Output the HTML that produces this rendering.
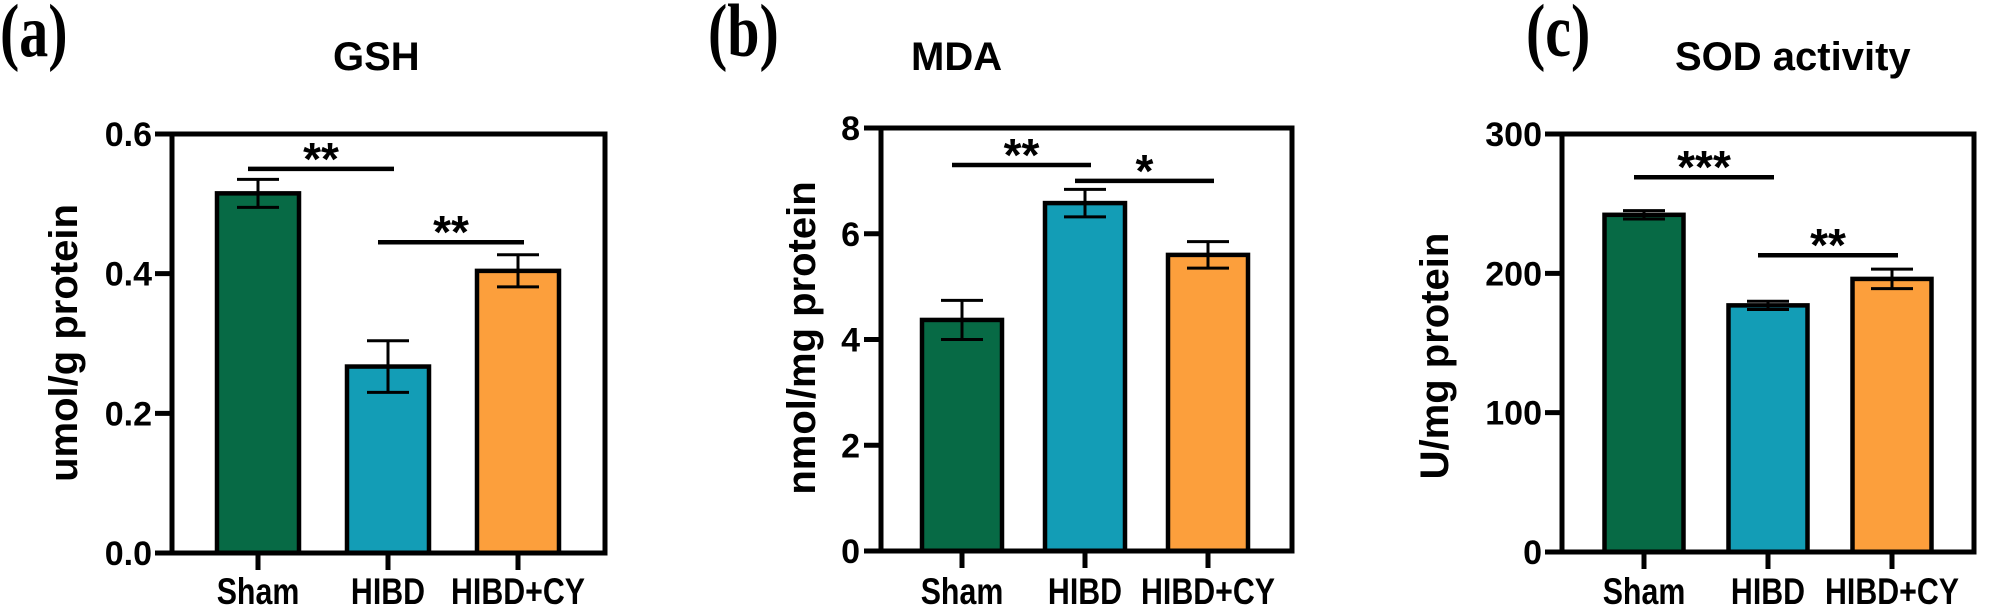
<!DOCTYPE html>
<html><head><meta charset="utf-8"><style>
html,body{margin:0;padding:0;background:#fff;width:2000px;height:607px;overflow:hidden}
svg{display:block}
text{font-family:"Liberation Sans",Arial,sans-serif;font-weight:bold;fill:#000}
</style></head><body>
<svg id="fig" width="2000" height="607" viewBox="0 0 2000 607"></svg>
<script>
const categories = ["Sham", "HIBD", "HIBD+CY"];
const colors = ["#076a45", "#139db6", "#fc9f3c"];
const gshValues = [0.515, 0.267, 0.404];
const gshErrors = [0.020, 0.037, 0.023];
const gshTicks = ["0.0", "0.2", "0.4", "0.6"];
const mdaValues = [4.37, 6.58, 5.60];
const mdaErrors = [0.37, 0.26, 0.25];
const mdaTicks = ["0", "2", "4", "6", "8"];
const sodValues = [242, 177, 196];
const sodErrors = [3, 3, 7];
const sodTicks = ["0", "100", "200", "300"];
const gshSig = [[0, 1, 0.55, "**"], [1, 2, 0.445, "**"]];
const mdaSig = [[0, 1, 7.3, "**"], [1, 2, 7.0, "*"]];
const sodSig = [[0, 1, 269, "***"], [1, 2, 213, "**"]];

const NS = "http://www.w3.org/2000/svg";
const svg = document.getElementById("fig");
function mk(tag, attrs, parent) {
  const e = document.createElementNS(NS, tag);
  for (const k in attrs) e.setAttribute(k, attrs[k]);
  (parent || svg).appendChild(e);
  return e;
}

const panels = [
  {id:"gsh", letter:"(a)", lx:0, title:"GSH", tx:333, ytitle:"umol/g protein", ytx:77, yty:343,
   left:172, right:605, top:134, bottom:553, max:0.6, ticks:gshTicks, vals:gshValues, errs:gshErrors,
   tickX:[258,388,518], bw:82, sig:gshSig, labR:152},
  {id:"mda", letter:"(b)", lx:708, title:"MDA", tx:911, ytitle:"nmol/mg protein", ytx:815, yty:338,
   left:881, right:1292, top:128, bottom:551, max:8, ticks:mdaTicks, vals:mdaValues, errs:mdaErrors,
   tickX:[962,1085,1208], bw:80, sig:mdaSig, labR:860},
  {id:"sod", letter:"(c)", lx:1526, title:"SOD activity", tx:1675, ytitle:"U/mg protein", ytx:1448, yty:356,
   left:1562, right:1974, top:134, bottom:552, max:300, ticks:sodTicks, vals:sodValues, errs:sodErrors,
   tickX:[1644,1768,1892], bw:79, sig:sodSig, labR:1542}
];

panels.forEach(p => {
  const g = mk("g", {});
  
  
  const y = v => p.bottom - v / p.max * (p.bottom - p.top);

  const L = mk("text", {x:0, y:0, "font-size":58, transform:"translate(" + p.lx + ",56) scale(1,1.3)",
    style:"font-family:'Liberation Serif',serif;font-weight:bold"}, g);
  L.textContent = p.letter;
  
  

  const T = mk("text", {x:p.tx, y:70, "font-size":40}, g);
  T.textContent = p.title;
  
  

  const YT = mk("text", {x:0, y:0, "font-size":40, "text-anchor":"middle",
    transform:"translate(" + p.ytx + "," + p.yty + ") rotate(-90)"}, g);
  YT.textContent = p.ytitle;
  
  

  p.vals.forEach((v, i) => {
    const cx = p.tickX[i];
    const r = mk("rect", {x:cx - p.bw/2, y:y(v), width:p.bw, height:p.bottom - y(v),
      fill:colors[i], stroke:"#000", "stroke-width":4.5}, g);
    
    
    const e = p.errs[i];
    const eg = mk("g", {stroke:"#000", "stroke-width":3}, g);
    
    
    mk("line", {x1:cx, x2:cx, y1:y(v+e), y2:y(v-e)}, eg);
    mk("line", {x1:cx-21, x2:cx+21, y1:y(v+e), y2:y(v+e)}, eg);
    mk("line", {x1:cx-21, x2:cx+21, y1:y(v-e), y2:y(v-e)}, eg);
  });

  const fr = mk("rect", {x:p.left, y:p.top, width:p.right - p.left, height:p.bottom - p.top,
    fill:"none", stroke:"#000", "stroke-width":5}, g);
  
  

  p.ticks.forEach(t => {
    const v = parseFloat(t);
    mk("line", {x1:p.left - 17, x2:p.left, y1:y(v), y2:y(v), stroke:"#000", "stroke-width":5}, g);
    const tl = mk("text", {x:p.labR, y:y(v) + 12, "font-size":34, "text-anchor":"end"}, g);
    tl.textContent = t;
    
    
  });

  categories.forEach((c, i) => {
    mk("line", {x1:p.tickX[i], x2:p.tickX[i], y1:p.bottom, y2:p.bottom + 17, stroke:"#000", "stroke-width":5}, g);
    const xl = mk("text", {x:0, y:0, "font-size":37, "text-anchor":"middle",
      transform:"translate(" + p.tickX[i] + ",604) scale(0.82,1)"}, g);
    xl.textContent = c;
    
    
  });

  p.sig.forEach(s => {
    const a = p.tickX[s[0]] - 10, b = p.tickX[s[1]] + 6, yy = y(s[2]);
    const sl = mk("line", {x1:a, x2:b, y1:yy, y2:yy, stroke:"#000", "stroke-width":4.5}, g);
    
    
    const st = mk("text", {x:(a+b)/2, y:yy + 6, "font-size":46, "text-anchor":"middle"}, g);
    st.textContent = s[3];
    
    
  });
});
</script>
</body></html>
